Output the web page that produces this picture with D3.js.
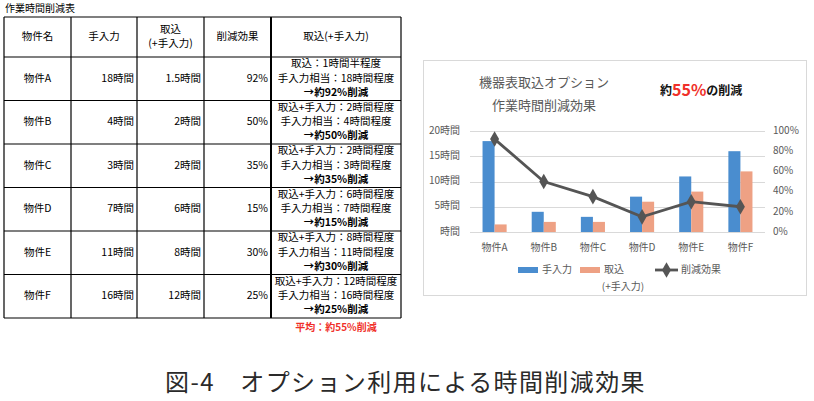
<!DOCTYPE html>
<html>
<head>
<meta charset="utf-8">
<script src="https://cdn.jsdelivr.net/npm/d3@7"></script>
<style>
  html, body { margin: 0; padding: 0; background: #fff; }
  svg { display: block; font-family: "Noto Sans CJK JP", "Noto Sans", sans-serif; }
</style>
</head>
<body>
<div id="chart"></div>
<script>
// table + chart data
const properties = ['物件A', '物件B', '物件C', '物件D', '物件E', '物件F'];
const manualHours = [18, 4, 3, 7, 11, 16];
const captureHours = [1.5, 2, 2, 6, 8, 12];
const reduction = [92, 50, 35, 15, 30, 25];
const captureNotes = ['取込：1時間半程度', '取込+手入力：2時間程度', '取込+手入力：2時間程度',
    '取込+手入力：6時間程度', '取込+手入力：8時間程度', '取込+手入力：12時間程度'];
const manualNotes = ['手入力相当：18時間程度', '手入力相当：4時間程度', '手入力相当：3時間程度',
    '手入力相当：7時間程度', '手入力相当：11時間程度', '手入力相当：16時間程度'];
const hourTicks = [0, 5, 10, 15, 20];
const pctTicks = [0, 20, 40, 60, 80, 100];
const tableHeaders = [['物件名'], ['手入力'], ['取込', '(+手入力)'], ['削減効果'], ['取込(+手入力)']];

const width = 814, height = 401;
const blue = '#4a8dcf', salmon = '#eea184', lineColor = '#555', axisText = '#595959';

const svg = d3.select('#chart').append('svg')
    .attr('width', width)
    .attr('height', height);

// ---------- table ----------
const colEdges = [4, 71, 137, 204, 271, 401];
const tableTop = 17, headerBottom = 57, tableBottom = 318;

const rowScale = d3.scaleBand()
    .domain(properties)
    .range([headerBottom, tableBottom]);

const tbl = svg.append('g');

svg.append('text')
    .attr('x', 5).attr('y', 9)
    .attr('dominant-baseline', 'middle')
    .attr('font-size', 10)
    .text('作業時間削減表');

// grid lines
tbl.selectAll('line.h')
    .data([tableTop, headerBottom, ...properties.map(p => rowScale(p) + rowScale.bandwidth())])
    .join('line')
    .attr('x1', colEdges[0]).attr('x2', colEdges[5])
    .attr('y1', d => d).attr('y2', d => d)
    .attr('stroke', '#000').attr('stroke-width', 1.2);

tbl.selectAll('line.v')
    .data(colEdges)
    .join('line')
    .attr('x1', d => d).attr('x2', d => d)
    .attr('y1', tableTop).attr('y2', tableBottom)
    .attr('stroke', '#000')
    .attr('stroke-width', (d, i) => i === 4 ? 2 : 1.2);

// headers
tableHeaders.forEach((lines, i) => {
    const cx = (colEdges[i] + colEdges[i + 1]) / 2;
    const cy = (tableTop + headerBottom) / 2;
    lines.forEach((t, j) => {
        tbl.append('text')
            .attr('x', cx)
            .attr('y', cy + (j - (lines.length - 1) / 2) * 14)
            .attr('text-anchor', 'middle')
            .attr('dominant-baseline', 'middle')
            .attr('font-size', 10.5)
            .text(t);
    });
});

// body rows
properties.forEach((p, i) => {
    const y0 = rowScale(p);
    const cy = y0 + rowScale.bandwidth() / 2;
    const cell = (x, anchor, t) => tbl.append('text')
        .attr('x', x).attr('y', cy)
        .attr('text-anchor', anchor)
        .attr('dominant-baseline', 'middle')
        .attr('font-size', 10.5)
        .text(t);
    cell((colEdges[0] + colEdges[1]) / 2, 'middle', p);
    cell(colEdges[2] - 3, 'end', manualHours[i] + '時間');
    cell(colEdges[3] - 3, 'end', captureHours[i] + '時間');
    cell(colEdges[4] - 3, 'end', reduction[i] + '%');

    const nx = (colEdges[4] + colEdges[5]) / 2;
    [captureNotes[i], manualNotes[i], '→約' + reduction[i] + '%削減'].forEach((t, j) => {
        tbl.append('text')
            .attr('x', nx)
            .attr('y', y0 + 7.5 + j * 14.3)
            .attr('text-anchor', 'middle')
            .attr('dominant-baseline', 'middle')
            .attr('font-size', 10.5)
            .attr('font-weight', j === 2 ? 'bold' : 'normal')
            .text(t);
    });
});

svg.append('text')
    .attr('x', 336).attr('y', 328)
    .attr('text-anchor', 'middle')
    .attr('dominant-baseline', 'middle')
    .attr('font-size', 10)
    .attr('font-weight', 'bold')
    .attr('fill', '#f0302a')
    .text('平均：約55%削減');

// ---------- chart ----------
svg.append('rect')
    .attr('x', 423.5).attr('y', 60.5)
    .attr('width', 383).attr('height', 235)
    .attr('fill', '#fff')
    .attr('stroke', '#d9d9d9');

const plot = { left: 470, right: 765, top: 131, bottom: 232 };

const x0 = d3.scaleBand()
    .domain(properties)
    .range([plot.left, plot.right])
    .paddingInner(0.51)
    .paddingOuter(0.255);

const x1 = d3.scaleBand()
    .domain(['manual', 'capture'])
    .range([0, x0.bandwidth()]);

const yHours = d3.scaleLinear().domain([0, 20]).range([plot.bottom, plot.top]);
const yPct = d3.scaleLinear().domain([0, 100]).range([plot.bottom, plot.top]);

const chart = svg.append('g');

chart.append('g')
    .selectAll('line')
    .data(hourTicks)
    .join('line')
    .attr('x1', plot.left).attr('x2', plot.right)
    .attr('y1', d => Math.round(yHours(d)) + 0.5)
    .attr('y2', d => Math.round(yHours(d)) + 0.5)
    .attr('stroke', '#d9d9d9');

chart.append('g')
    .selectAll('text')
    .data(hourTicks)
    .join('text')
    .attr('x', 460)
    .attr('y', d => yHours(d))
    .attr('text-anchor', 'end')
    .attr('dominant-baseline', 'middle')
    .attr('font-size', 10)
    .attr('fill', axisText)
    .text(d => (d === 0 ? '' : d) + '時間');

chart.append('g')
    .selectAll('text')
    .data(pctTicks)
    .join('text')
    .attr('x', 773)
    .attr('y', d => yPct(d))
    .attr('dominant-baseline', 'middle')
    .attr('font-size', 10)
    .attr('fill', axisText)
    .text(d => d + '%');

chart.append('g')
    .selectAll('text')
    .data(properties)
    .join('text')
    .attr('x', d => x0(d) + x0.bandwidth() / 2)
    .attr('y', 248)
    .attr('text-anchor', 'middle')
    .attr('dominant-baseline', 'middle')
    .attr('font-size', 10)
    .attr('fill', axisText)
    .text(d => d);

// bars
const groups = chart.append('g')
    .selectAll('g')
    .data(properties)
    .join('g')
    .attr('transform', d => `translate(${x0(d)},0)`);

groups.append('rect')
    .attr('x', x1('manual'))
    .attr('width', x1.bandwidth())
    .attr('y', (d, i) => yHours(manualHours[i]))
    .attr('height', (d, i) => yHours(0) - yHours(manualHours[i]))
    .attr('fill', blue);

groups.append('rect')
    .attr('x', x1('capture'))
    .attr('width', x1.bandwidth())
    .attr('y', (d, i) => yHours(captureHours[i]))
    .attr('height', (d, i) => yHours(0) - yHours(captureHours[i]))
    .attr('fill', salmon);

// reduction line
const line = d3.line()
    .x((d, i) => x0(properties[i]) + x0.bandwidth() / 2)
    .y(d => yPct(d));

chart.append('path')
    .datum(reduction)
    .attr('d', line)
    .attr('fill', 'none')
    .attr('stroke', lineColor)
    .attr('stroke-width', 2.8);

const diamond = d3.symbol().type(d3.symbolDiamond).size(70);
chart.append('g')
    .selectAll('path')
    .data(reduction)
    .join('path')
    .attr('d', diamond)
    .attr('transform', (d, i) => `translate(${x0(properties[i]) + x0.bandwidth() / 2},${yPct(d)})`)
    .attr('fill', lineColor);

// titles
['機器表取込オプション', '作業時間削減効果'].forEach((t, i) => {
    svg.append('text')
        .attr('x', 544).attr('y', 83 + i * 23)
        .attr('text-anchor', 'middle')
        .attr('dominant-baseline', 'middle')
        .attr('font-size', 13)
        .attr('fill', axisText)
        .text(t);
});

const badge = svg.append('text')
    .attr('x', 660).attr('y', 92)
    .attr('dominant-baseline', 'middle')
    .attr('font-weight', 'bold');
badge.append('tspan').attr('font-size', 12).attr('fill', '#111').text('約');
badge.append('tspan').attr('font-size', 16).attr('fill', '#f0302a').text('55%');
badge.append('tspan').attr('font-size', 12).attr('fill', '#111').text('の削減');

// legend
const lg = svg.append('g').attr('font-size', 10).attr('fill', axisText);
lg.append('rect').attr('x', 518).attr('y', 267).attr('width', 20).attr('height', 6).attr('fill', blue);
lg.append('text').attr('x', 542).attr('y', 270).attr('dominant-baseline', 'middle').text('手入力');
lg.append('rect').attr('x', 580).attr('y', 267).attr('width', 20).attr('height', 6).attr('fill', salmon);
lg.append('text').attr('x', 604).attr('y', 270).attr('dominant-baseline', 'middle').text('取込');
lg.append('text').attr('x', 623).attr('y', 287).attr('text-anchor', 'middle').attr('dominant-baseline', 'middle').text('(+手入力)');
lg.append('line').attr('x1', 655).attr('x2', 678).attr('y1', 270).attr('y2', 270)
    .attr('stroke', lineColor).attr('stroke-width', 2.8);
lg.append('path').attr('d', diamond).attr('transform', 'translate(666.5,270)').attr('fill', lineColor);
lg.append('text').attr('x', 681).attr('y', 270).attr('dominant-baseline', 'middle').text('削減効果');

// caption
svg.append('text')
    .attr('x', 165).attr('y', 384)
    .attr('dominant-baseline', 'middle')
    .attr('font-size', 24)
    .attr('fill', '#2a2a2a')
    .attr('letter-spacing', 1.4)
    .text('図-4　オプション利用による時間削減効果');
</script>
</body>
</html>
